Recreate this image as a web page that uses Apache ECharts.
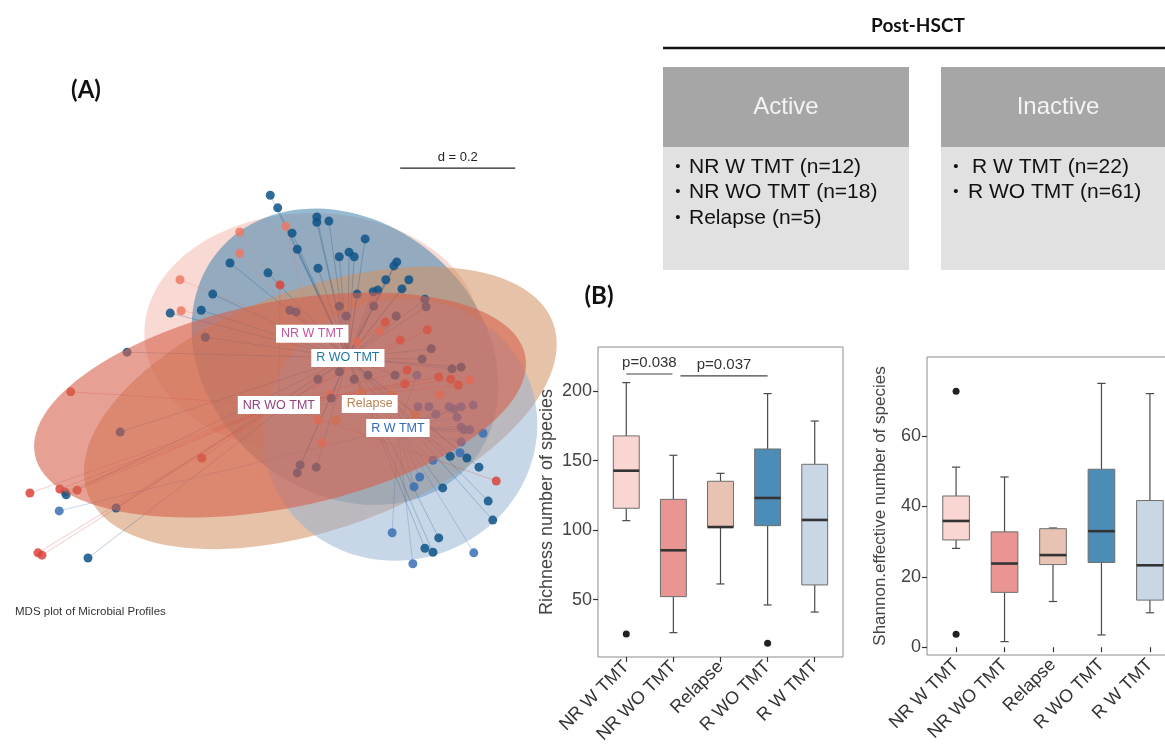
<!DOCTYPE html>
<html>
<head>
<meta charset="utf-8">
<script src="https://cdn.jsdelivr.net/npm/echarts@6/dist/echarts.min.js"></script>
<style>
  html, body { margin: 0; padding: 0; background: #fff; }
  #chart { width: 1165px; height: 751px; }
</style>
</head>
<body>
<div id="chart"></div>
<script>
// ---------- Panel A: MDS ordination of microbial profiles ----------
const mdsGroups = ['NR W TMT', 'NR WO TMT', 'Relapse', 'R WO TMT', 'R W TMT'];

// sample coordinates on the two MDS axes, one list per group
const ptsNRwTMT = [[-0.083,0.240],[-0.187,0.157],[-0.185,0.103],[-0.083,0.203],[-0.003,0.250],[0.161,0.068],
  [0.121,0.049],[0.265,-0.043],[0.317,-0.017],[0.074,-0.043],[0.053,-0.087],[0.060,-0.127]];
const ptsNRwoTMT = [[-0.377,-0.038],[-0.149,-0.153],[-0.448,-0.214],[-0.396,-0.207],[-0.387,-0.212],[-0.366,-0.209],
  [-0.434,-0.318],[-0.427,-0.322],[-0.013,0.148],[0.170,0.083],[0.196,0.052],[0.243,0.070],[0.208,0.000],
  [0.204,-0.024],[0.363,-0.193],[0.263,-0.012],[0.284,-0.016],[0.297,-0.026]];
const ptsRelapse = [[0.128,-0.038],[0.182,-0.043],[0.084,-0.087],[0.102,-0.050],[0.222,-0.077]];
const ptsRwoTMT = [[-0.030,0.304],[-0.017,0.282],[0.051,0.266],[0.051,0.257],[0.072,0.259],[0.008,0.238],[0.017,0.210],
  [0.135,0.228],[-0.100,0.186],[-0.034,0.169],[0.053,0.177],[0.090,0.197],[0.107,0.205],[0.116,0.197],[0.190,0.188],
  [0.185,0.181],[0.171,0.157],[0.157,0.139],[0.149,0.136],[-0.204,0.099],[-0.150,0.104],[-0.279,0.031],[-0.347,-0.327],
  [-0.385,-0.217],[-0.291,-0.108],[-0.298,-0.240],[0.283,-0.150],[0.312,-0.153],[0.333,-0.169],[0.270,-0.205],
  [0.349,-0.228],[0.357,-0.261],[0.263,-0.292],[0.239,-0.310],[0.253,-0.317],[0.199,0.141],[0.211,0.157],[-0.130,0.132],
  [0.004,0.104],[0.015,0.101],[0.090,0.111],[0.102,0.094],[0.121,0.132],[0.150,0.111],[0.189,0.094],[0.239,0.123],
  [0.241,0.110],[-0.143,0.057],[0.053,-0.016],[0.090,-0.003],[0.116,-0.016],[0.140,-0.009],[0.250,0.037],[0.234,0.019],
  [0.302,0.005],[0.286,0.002],[0.076,-0.049],[0.022,-0.165],[0.017,-0.179],[0.050,-0.169],[0.187,-0.009]];
const ptsRwTMT = [[0.317,-0.104],[0.340,-0.110],[0.220,-0.203],[0.182,-0.283],[0.324,-0.318],[0.218,-0.337],[0.253,-0.157],
  [0.300,-0.144],[0.230,-0.186],[-0.397,-0.245],[0.227,-0.064],[0.246,-0.064],[0.258,-0.077],[0.281,-0.064],[0.290,-0.068],
  [0.302,-0.064],[0.323,-0.061],[0.295,-0.082],[0.302,-0.099],[0.307,-0.104],[0.302,-0.125],[0.225,-0.009]];

// group centroids (star centres and label anchors)
const centroidX = [0.043, -0.015, 0.143, 0.105, 0.192];
const centroidY = [0.063, -0.061, -0.059, 0.021, -0.101];

// inertia ellipses: centre, semi-axes, rotation (degrees)
const ellipseCX = [0.043, -0.013, 0.057, 0.100, 0.196];
const ellipseCY = [0.064, -0.061, -0.066, 0.023, -0.104];
const ellipseA = [0.292, 0.435, 0.431, 0.287, 0.240];
const ellipseB = [0.209, 0.179, 0.209, 0.235, 0.226];
const ellipseAngle = [0, 11.5, 20, -40, 20];

// scale bar length in MDS units
const scaleD = 0.2;

// ---------- Panel B: alpha diversity ----------
const boxCats = ['NR W TMT', 'NR WO TMT', 'Relapse', 'R WO TMT', 'R W TMT'];

const richLow  = [106.8, 26.3, 61.3, 46.2, 41.1];
const richQ1   = [115.7, 52.2, 102.2, 103.2, 60.6];
const richMed  = [142.7, 85.5, 102.2, 123.1, 107.3];
const richQ3   = [167.7, 122.1, 135.1, 158.3, 147.3];
const richHigh = [206.0, 153.8, 140.8, 198.1, 178.4];
const richOutliers = [[1, 25.3], [4, 18.6]];

const shanLow  = [28.1, 1.6, 13.0, 3.5, 9.8];
const shanQ1   = [30.5, 15.6, 23.5, 24.1, 13.4];
const shanMed  = [35.9, 23.8, 26.2, 33.0, 23.3];
const shanQ3   = [43.0, 32.8, 33.7, 50.6, 41.7];
const shanHigh = [51.2, 48.4, 33.9, 75.0, 72.1];
const shanOutliers = [[1, 72.8], [1, 3.7]];

// pairwise comparisons on richness
const sigFrom = [1, 2.15];
const sigTo = [1.98, 4.0];
const sigY = [212.2, 210.8];
const sigText = ['p=0.038', 'p=0.037'];

const richTicks = [50, 100, 150, 200];
const shanTicks = [0, 20, 40, 60];

// ---------- styling ----------
const SANS = '"Liberation Sans", Arial, sans-serif';
const pointColors = ['#ec7a64', '#d8443c', '#c68658', '#0e5487', '#3a6fb4'];
const fillColors = ['#f0a090', '#d6604d', '#cf9060', '#4a88b0', '#92afd2'];
const fillOpacity = [0.4, 0.6, 0.55, 0.58, 0.5];
const labelColors = ['#c2559a', '#93407f', '#bd8052', '#1f76a3', '#2f6cc0'];
// ellipses painted beneath the points, then the NR WO TMT ellipse painted over them
const ellipsesBelow = [0, 3, 2, 4];
const ellipsesAbove = [1];
const boxColors = ['#f9d6d1', '#e99594', '#e8c3b3', '#4b8db7', '#c9d6e6'];

const groupPoints = [ptsNRwTMT, ptsNRwoTMT, ptsRelapse, ptsRwoTMT, ptsRwTMT];

// ---------- series builders ----------
function ellipseSeries(order, z) {
  return {
    type: 'custom', xAxisIndex: 0, yAxisIndex: 0, z, clip: false, silent: true,
    data: order.map(g => [ellipseCX[g], ellipseCY[g], ellipseA[g], ellipseB[g], ellipseAngle[g], g]),
    encode: { x: 0, y: 1 },
    renderItem(params, api) {
      const cx = api.value(0), cy = api.value(1), a = api.value(2), b = api.value(3);
      const th = api.value(4) * Math.PI / 180, g = api.value(5);
      const pts = [];
      for (let k = 0; k < 120; k++) {
        const t = k / 120 * 2 * Math.PI;
        const ex = a * Math.cos(t), ey = b * Math.sin(t);
        pts.push(api.coord([cx + ex * Math.cos(th) - ey * Math.sin(th), cy + ex * Math.sin(th) + ey * Math.cos(th)]));
      }
      return { type: 'polygon', shape: { points: pts },
        style: { fill: fillColors[g], opacity: fillOpacity[g], stroke: null } };
    }
  };
}

const spokeData = [];
groupPoints.forEach((list, g) => list.forEach(p => spokeData.push([p[0], p[1], centroidX[g], centroidY[g], g])));

const spokeSeries = {
  type: 'custom', xAxisIndex: 0, yAxisIndex: 0, z: 2, clip: false, silent: true,
  data: spokeData, encode: { x: 0, y: 1 },
  renderItem(params, api) {
    const p = api.coord([api.value(0), api.value(1)]);
    const c = api.coord([api.value(2), api.value(3)]);
    const g = api.value(4);
    return { type: 'line', shape: { x1: p[0], y1: p[1], x2: c[0], y2: c[1] },
      style: { stroke: pointColors[g], lineWidth: 0.7, opacity: 0.4 } };
  }
};

const pointSeries = groupPoints.map((list, g) => ({
  type: 'scatter', name: mdsGroups[g], xAxisIndex: 0, yAxisIndex: 0, z: 3,
  data: list, symbolSize: 9,
  itemStyle: { color: pointColors[g], opacity: 0.85 }
}));

// group names in white boxes at the centroids
const labelSeries = {
  type: 'custom', xAxisIndex: 0, yAxisIndex: 0, z: 20, clip: false, silent: true,
  data: mdsGroups.map((n, g) => [centroidX[g], centroidY[g], g]),
  encode: { x: 0, y: 1 },
  renderItem(params, api) {
    const p = api.coord([api.value(0), api.value(1)]);
    const g = api.value(2);
    return { type: 'text', x: p[0], y: p[1], z2: 100,
      style: { text: mdsGroups[g], fill: labelColors[g], fontSize: 12.5, fontFamily: SANS,
        align: 'center', verticalAlign: 'middle',
        backgroundColor: '#ffffff', padding: [3, 5, 2, 5] } };
  }
};

const scaleSeries = {
  type: 'custom', xAxisIndex: 0, yAxisIndex: 0, z: 5, clip: false,
  data: [[0.196, 0.351, scaleD]], encode: { x: 0, y: 1 },
  renderItem(params, api) {
    const a = api.coord([api.value(0), api.value(1)]);
    const b = api.coord([api.value(0) + api.value(2), api.value(1)]);
    return { type: 'group', children: [
      { type: 'line', shape: { x1: a[0], y1: a[1], x2: b[0], y2: b[1] }, style: { stroke: '#222', lineWidth: 1.2 } },
      { type: 'text', x: (a[0] + b[0]) / 2, y: a[1] - 11,
        style: { text: 'd = ' + api.value(2), fill: '#222', fontSize: 13, fontFamily: SANS, align: 'center', verticalAlign: 'middle' } }
    ] };
  }
};

const BOX_HALF = 0.275, CAP_HALF = 0.085;
function boxSeries(axisIdx, low, q1, med, q3, high) {
  return {
    type: 'custom', xAxisIndex: axisIdx, yAxisIndex: axisIdx, z: 3,
    data: boxCats.map((c, i) => [i + 1, low[i], q1[i], med[i], q3[i], high[i]]),
    encode: { x: 0, y: [1, 2, 3, 4, 5] },
    renderItem(params, api) {
      const x = api.value(0);
      const c = [1, 2, 3, 4, 5].map(k => api.coord([x, api.value(k)]));
      const xl = api.coord([x - BOX_HALF, 0])[0], xr = api.coord([x + BOX_HALF, 0])[0];
      const cl = api.coord([x - CAP_HALF, 0])[0], cr = api.coord([x + CAP_HALF, 0])[0];
      const ws = { stroke: '#4a4a4a', lineWidth: 1.2 };
      return { type: 'group', children: [
        { type: 'line', shape: { x1: c[0][0], y1: c[0][1], x2: c[1][0], y2: c[1][1] }, style: ws },
        { type: 'line', shape: { x1: c[3][0], y1: c[3][1], x2: c[4][0], y2: c[4][1] }, style: ws },
        { type: 'line', shape: { x1: cl, y1: c[0][1], x2: cr, y2: c[0][1] }, style: ws },
        { type: 'line', shape: { x1: cl, y1: c[4][1], x2: cr, y2: c[4][1] }, style: ws },
        { type: 'rect', shape: { x: xl, y: c[3][1], width: xr - xl, height: c[1][1] - c[3][1] },
          style: { fill: boxColors[params.dataIndex], stroke: '#6e6e6e', lineWidth: 1 } },
        { type: 'line', shape: { x1: xl, y1: c[2][1], x2: xr, y2: c[2][1] }, style: { stroke: '#333', lineWidth: 2.6 } }
      ] };
    }
  };
}

function outlierSeries(axisIdx, pts) {
  return { type: 'scatter', xAxisIndex: axisIdx, yAxisIndex: axisIdx, z: 4, data: pts, symbolSize: 7,
    itemStyle: { color: '#222', opacity: 1 } };
}

const sigSeries = {
  type: 'custom', xAxisIndex: 1, yAxisIndex: 1, z: 4, clip: false,
  data: sigText.map((t, i) => [sigFrom[i], sigTo[i], sigY[i], t]),
  encode: { x: [0, 1], y: 2 },
  renderItem(params, api) {
    const a = api.coord([api.value(0), api.value(2)]);
    const b = api.coord([api.value(1), api.value(2)]);
    return { type: 'group', children: [
      { type: 'line', shape: { x1: a[0], y1: a[1], x2: b[0], y2: b[1] }, style: { stroke: '#444', lineWidth: 1.2 } },
      { type: 'text', x: (a[0] + b[0]) / 2, y: a[1] - 11,
        style: { text: sigText[params.dataIndex], fill: '#333', fontSize: 15, fontFamily: SANS, align: 'center', verticalAlign: 'middle' } }
    ] };
  }
};

function catAxis(gridIndex) {
  return {
    gridIndex, type: 'value', min: 0.4, max: 5.6,
    axisLine: { show: false }, splitLine: { show: false },
    axisTick: { show: true, customValues: [1, 2, 3, 4, 5], length: 5, lineStyle: { color: '#333', width: 1.2 } },
    axisLabel: { customValues: [1, 2, 3, 4, 5], formatter: v => boxCats[Math.round(v) - 1],
      rotate: 45, fontSize: 18, color: '#333', fontFamily: SANS, margin: 7 }
  };
}

function valAxis(gridIndex, min, max, ticks, name, nameSize, gap) {
  return {
    gridIndex, type: 'value', min, max,
    axisLine: { show: false }, splitLine: { show: false },
    axisTick: { show: true, customValues: ticks, length: 5, lineStyle: { color: '#333', width: 1.2 } },
    axisLabel: { customValues: ticks, fontSize: 18, color: '#444', fontFamily: SANS, margin: 6 },
    name, nameLocation: 'middle', nameGap: gap, nameRotate: 90,
    nameTextStyle: { fontSize: nameSize, color: '#444', fontFamily: SANS }
  };
}

// ---------- static layout: headings and the cohort table ----------
const graphicEls = [
  { type: 'text', x: 86, y: 90, style: { text: '(A)', fontSize: 24, fontWeight: 'bold', fontFamily: 'Lato, sans-serif', fill: '#111', align: 'center', verticalAlign: 'middle' } },
  { type: 'text', x: 599, y: 296, style: { text: '(B)', fontSize: 24, fontWeight: 'bold', fontFamily: 'Lato, sans-serif', fill: '#111', align: 'center', verticalAlign: 'middle' } },
  { type: 'text', x: 15, y: 612, style: { text: 'MDS plot of Microbial Profiles', fontSize: 11.5, fontFamily: SANS, fill: '#333', align: 'left', verticalAlign: 'middle' } },
  { type: 'text', x: 918, y: 26, style: { text: 'Post-HSCT', fontSize: 19, fontWeight: 'bold', fontFamily: 'Lato, sans-serif', fill: '#111', align: 'center', verticalAlign: 'middle' } },
  { type: 'line', shape: { x1: 663, y1: 48, x2: 1165, y2: 48 }, style: { stroke: '#111', lineWidth: 2.5 } },
  { type: 'rect', shape: { x: 663, y: 67, width: 246, height: 80 }, style: { fill: '#a6a6a6' } },
  { type: 'rect', shape: { x: 663, y: 147, width: 246, height: 123 }, style: { fill: '#e1e1e1' } },
  { type: 'rect', shape: { x: 941, y: 67, width: 230, height: 80 }, style: { fill: '#a6a6a6' } },
  { type: 'rect', shape: { x: 941, y: 147, width: 230, height: 123 }, style: { fill: '#e1e1e1' } },
  { type: 'text', x: 786, y: 107, style: { text: 'Active', fontSize: 24, fontFamily: SANS, fill: '#f4f4f4', align: 'center', verticalAlign: 'middle' } },
  { type: 'text', x: 1058, y: 107, style: { text: 'Inactive', fontSize: 24, fontFamily: SANS, fill: '#f4f4f4', align: 'center', verticalAlign: 'middle' } }
];
const activeItems = ['NR W TMT (n=12)', 'NR WO TMT (n=18)', 'Relapse (n=5)'];
const inactiveItems = ['R W TMT (n=22)', 'R WO TMT (n=61)'];
const rowY = [167, 192, 218];
activeItems.forEach((t, i) => {
  graphicEls.push({ type: 'text', x: 678, y: rowY[i], style: { text: '•', fontSize: 15, fontFamily: SANS, fill: '#111', align: 'center', verticalAlign: 'middle' } });
  graphicEls.push({ type: 'text', x: 689, y: rowY[i], style: { text: t, fontSize: 21, fontFamily: SANS, fill: '#111', align: 'left', verticalAlign: 'middle' } });
});
const inactiveX = [972, 968];
inactiveItems.forEach((t, i) => {
  graphicEls.push({ type: 'text', x: 956, y: rowY[i], style: { text: '•', fontSize: 15, fontFamily: SANS, fill: '#111', align: 'center', verticalAlign: 'middle' } });
  graphicEls.push({ type: 'text', x: inactiveX[i], y: rowY[i], style: { text: t, fontSize: 21, fontFamily: SANS, fill: '#111', align: 'left', verticalAlign: 'middle' } });
});

const chart = echarts.init(document.getElementById('chart'), null, { renderer: 'canvas' });
chart.setOption({
  animation: false,
  backgroundColor: '#fff',
  grid: [
    { left: 0, top: 140, width: 575, height: 460, show: false, outerBoundsMode: 'none' },
    { left: 598, top: 347, width: 245, height: 310, show: true, borderColor: '#8c8c8c', borderWidth: 1, backgroundColor: 'transparent', outerBoundsMode: 'none' },
    { left: 927, top: 357, width: 252, height: 298, show: true, borderColor: '#8c8c8c', borderWidth: 1, backgroundColor: 'transparent', outerBoundsMode: 'none' }
  ],
  xAxis: [
    { gridIndex: 0, type: 'value', min: -0.5, max: 0.5, show: false },
    catAxis(1),
    catAxis(2)
  ],
  yAxis: [
    { gridIndex: 0, type: 'value', min: -0.4, max: 0.4, show: false },
    valAxis(1, 8.8, 231.6, richTicks, 'Richness number of species', 18, 42),
    valAxis(2, -2.2, 82.5, shanTicks, 'Shannon.effective number of species', 17, 38)
  ],
  graphic: { elements: graphicEls },
  series: [
    ellipseSeries(ellipsesBelow, 1), spokeSeries, ...pointSeries, ellipseSeries(ellipsesAbove, 6),
    labelSeries, scaleSeries,
    boxSeries(1, richLow, richQ1, richMed, richQ3, richHigh), outlierSeries(1, richOutliers), sigSeries,
    boxSeries(2, shanLow, shanQ1, shanMed, shanQ3, shanHigh), outlierSeries(2, shanOutliers)
  ]
});
</script>
</body>
</html>
